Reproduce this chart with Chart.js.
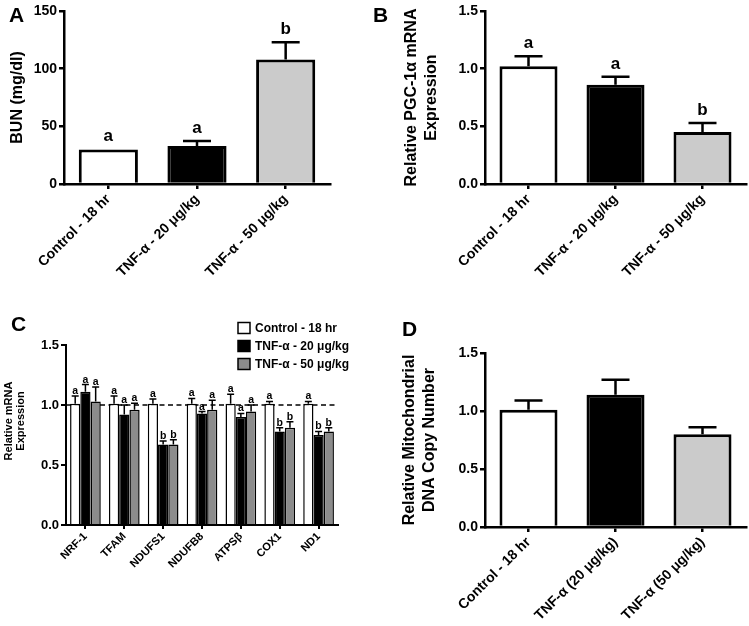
<!DOCTYPE html>
<html><head><meta charset="utf-8">
<script src="https://cdn.jsdelivr.net/npm/chart.js@4.4.1/dist/chart.umd.min.js"></script>
<style>
html,body{margin:0;padding:0;background:#fff;width:749px;height:626px;overflow:hidden;position:relative;font-family:"Liberation Sans",Arial,sans-serif;}
canvas{position:absolute;}
.lbl{position:absolute;font-weight:bold;font-size:21px;line-height:1;color:#000;}
</style></head><body>
<canvas id="cA" width="370" height="305" style="left:0;top:0"></canvas>
<canvas id="cB" width="379" height="305" style="left:370px;top:0"></canvas>
<canvas id="cC" width="370" height="321" style="left:0;top:305px"></canvas>
<canvas id="cD" width="379" height="321" style="left:370px;top:305px"></canvas>
<div class="lbl" style="left:9px;top:4px">A</div>
<div class="lbl" style="left:373px;top:4px">B</div>
<div class="lbl" style="left:11px;top:313px">C</div>
<div class="lbl" style="left:402px;top:318px">D</div>
<script>
// ---- Data ----
const groupsAB = ['Control - 18 hr', 'TNF-α - 20 μg/kg', 'TNF-α - 50 μg/kg'];
const groupsD = ['Control - 18 hr', 'TNF-α (20 μg/kg)', 'TNF-α (50 μg/kg)'];
const bunValues = [30, 33, 108];
const bunErrors = [0, 4.3, 14.8];
const bunLetters = ['a', 'a', 'b'];
const pgcValues = [1.02, 0.86, 0.45];
const pgcErrors = [0.087, 0.07, 0.078];
const pgcLetters = ['a', 'a', 'b'];
const genes = ['NRF-1', 'TFAM', 'NDUFS1', 'NDUFB8', 'ATPSβ', 'COX1', 'ND1'];
const seriesNames = ['Control - 18 hr', 'TNF-α - 20 μg/kg', 'TNF-α - 50 μg/kg'];
const ctrlValues = [1.01, 1.01, 1.01, 1.01, 1.01, 1.01, 1.01];
const ctrlErrors = [0.065, 0.065, 0.04, 0.045, 0.08, 0.02, 0.02];
const ctrlLetters = ['a', 'a', 'a', 'a', 'a', 'a', 'a'];
const tnf20Values = [1.11, 0.92, 0.67, 0.93, 0.90, 0.78, 0.75];
const tnf20Errors = [0.06, 0.08, 0.03, 0.015, 0.03, 0.03, 0.03];
const tnf20Letters = ['a', 'a', 'b', 'a', 'a', 'b', 'b'];
const tnf50Values = [1.03, 0.96, 0.67, 0.96, 0.945, 0.81, 0.78];
const tnf50Errors = [0.12, 0.055, 0.04, 0.08, 0.055, 0.05, 0.03];
const tnf50Letters = ['a', 'a', 'b', 'a', 'a', 'b', 'b'];
const mtValues = [1.01, 1.14, 0.80];
const mtErrors = [0.08, 0.13, 0.06];
const ticksA = [0, 50, 100, 150];
const tickLabelsA = ['0', '50', '100', '150'];
const ticksRel = [0, 0.5, 1.0, 1.5];
const tickLabelsRel = ['0.0', '0.5', '1.0', '1.5'];
const refLineValue = 1.0;
const titleC = ['Relative mRNA', 'Expression'];

// ---- Styling ----
const FONT = '"Liberation Sans", Arial, sans-serif';
Chart.defaults.font.family = FONT;
Chart.defaults.font.weight = 'bold';
Chart.defaults.color = '#000';

const extras = {
  cA: {errors: [bunErrors], letters: [bunLetters], cap: 28, lw: 2.5, font: 'bold 17px ' + FONT, gap: 8},
  cB: {errors: [pgcErrors], letters: [pgcLetters], cap: 28, lw: 2.5, font: 'bold 17px ' + FONT, gap: 8},
  cC: {errors: [ctrlErrors, tnf20Errors, tnf50Errors], letters: [ctrlLetters, tnf20Letters, tnf50Letters], cap: 7, lw: 1.5, font: 'bold 10.5px ' + FONT, gap: 2, refLine: refLineValue, legend: true, ownTitle: titleC},
  cD: {errors: [mtErrors], letters: null, cap: 28, lw: 2.5, font: 'bold 17px ' + FONT, gap: 8}
};

const errPlugin = {
  id: 'errs',
  beforeDatasetsDraw(chart) {
    const ex = extras[chart.canvas.id];
    if (ex.refLine == null) return;
    const ctx = chart.ctx, ys = chart.scales.y.getPixelForValue(ex.refLine), a = chart.chartArea;
    ctx.save();
    ctx.strokeStyle = '#000'; ctx.lineWidth = 1.5; ctx.setLineDash([5, 3.5]);
    ctx.beginPath(); ctx.moveTo(a.left, ys); ctx.lineTo(a.right, ys); ctx.stroke();
    ctx.restore();
  },
  afterDatasetsDraw(chart) {
    const ex = extras[chart.canvas.id];
    const ctx = chart.ctx, yScale = chart.scales.y;
    chart.data.datasets.forEach((ds, di) => {
      const meta = chart.getDatasetMeta(di);
      meta.data.forEach((bar, i) => {
        const v = ds.data[i], e = ex.errors[di][i];
        let top = bar.y;
        ctx.save();
        ctx.strokeStyle = '#000'; ctx.lineWidth = ex.lw;
        if (e > 0) {
          top = yScale.getPixelForValue(v + e);
          ctx.beginPath();
          ctx.moveTo(bar.x, bar.y); ctx.lineTo(bar.x, top);
          ctx.moveTo(bar.x - ex.cap / 2, top); ctx.lineTo(bar.x + ex.cap / 2, top);
          ctx.stroke();
        }
        const L = ex.letters && ex.letters[di] && ex.letters[di][i];
        if (L) {
          ctx.fillStyle = '#000'; ctx.font = ex.font; ctx.textAlign = 'center'; ctx.textBaseline = 'alphabetic';
          ctx.fillText(L, bar.x, top - ex.gap);
        }
        ctx.restore();
      });
    });
  },
  afterDraw(chart) {
    const ex = extras[chart.canvas.id];
    const ctx = chart.ctx;
    if (ex.ownTitle) {
      ex.ownTitle.forEach((line, k) => {
        ctx.save();
        ctx.translate(9 + 12 * k, 116);
        ctx.rotate(-Math.PI / 2);
        ctx.fillStyle = '#000'; ctx.font = 'bold 11px ' + FONT; ctx.textAlign = 'center'; ctx.textBaseline = 'middle';
        ctx.fillText(line, 0, 0);
        ctx.restore();
      });
    }
    if (!ex.legend) return;
    const rows = [23, 41, 59];
    chart.data.datasets.forEach((ds, di) => {
      ctx.save();
      ctx.fillStyle = ds.backgroundColor; ctx.strokeStyle = '#000'; ctx.lineWidth = 1.5;
      ctx.fillRect(238, rows[di] - 5.5, 12, 11);
      ctx.strokeRect(238, rows[di] - 5.5, 12, 11);
      ctx.fillStyle = '#000'; ctx.font = 'bold 12px ' + FONT; ctx.textAlign = 'left'; ctx.textBaseline = 'middle';
      ctx.fillText(ds.label, 255, rows[di] + 0.5);
      ctx.restore();
    });
  }
};

function yAxis(o) {
  return {
    min: o.min, max: o.max,
    afterBuildTicks: s => { s.ticks = o.ticks.map(v => ({value: v})); },
    afterFit: s => { s.width = o.width; },
    ticks: {font: {size: o.tickSize, weight: 'bold'}, padding: 2, color: '#000',
      callback: (v, i) => o.labels[i]},
    grid: {display: true, drawOnChartArea: false, drawTicks: true, tickLength: 5, color: '#000', lineWidth: o.lw},
    border: {display: true, color: '#000', width: o.lw},
    title: {display: !!o.title, text: o.title || '', font: {size: o.titleSize, weight: 'bold'}, color: '#000', padding: {top: o.titlePad, bottom: 0}}
  };
}
function xAxis(o) {
  return {
    afterFit: s => { s.height = o.height; },
    ticks: {font: {size: o.tickSize, weight: 'bold'}, color: '#000', minRotation: 45, maxRotation: 45, autoSkip: false, padding: o.pad},
    grid: {display: true, drawOnChartArea: false, drawTicks: true, tickLength: o.tl, color: '#000', lineWidth: o.lw, offset: false},
    border: {display: true, color: '#000', width: o.lw}
  };
}
function baseOpts(pad, yo, xo) {
  return {
    responsive: false, devicePixelRatio: 1, animation: false,
    layout: {padding: pad},
    plugins: {legend: {display: false}, tooltip: {enabled: false}},
    scales: {x: xAxis(xo), y: yAxis(yo)}
  };
}

new Chart(document.getElementById('cA'), {
  type: 'bar',
  data: {labels: groupsAB, datasets: [{data: bunValues, backgroundColor: ['#ffffff', '#000000', '#cbcbcb'], borderColor: '#000', borderWidth: 3, borderSkipped: 'start', categoryPercentage: 1, barPercentage: 0.667}]},
  options: baseOpts({top: 11, right: 40, left: 0, bottom: 0},
    {min: 0, max: 150, ticks: ticksA, labels: tickLabelsA, width: 64, tickSize: 14, lw: 2.5, title: 'BUN (mg/dl)', titleSize: 16, titlePad: 8.4},
    {height: 121, tickSize: 14, pad: 2, tl: 5, lw: 2.5}),
  plugins: [errPlugin]
});

new Chart(document.getElementById('cB'), {
  type: 'bar',
  data: {labels: groupsAB, datasets: [{data: pgcValues, backgroundColor: ['#ffffff', '#000000', '#cbcbcb'], borderColor: '#000', borderWidth: 3, borderSkipped: 'start', categoryPercentage: 1, barPercentage: 0.667}]},
  options: baseOpts({top: 11, right: 3, left: 0, bottom: 0},
    {min: 0, max: 1.5, ticks: ticksRel, labels: tickLabelsRel, width: 115, tickSize: 14, lw: 2.5, title: ['Relative PGC-1α mRNA', 'Expression'], titleSize: 16, titlePad: 32.4},
    {height: 121, tickSize: 14, pad: 2, tl: 5, lw: 2.5}),
  plugins: [errPlugin]
});

new Chart(document.getElementById('cC'), {
  type: 'bar',
  data: {labels: genes, datasets: [
    {label: seriesNames[0], data: ctrlValues, backgroundColor: '#ffffff', borderColor: '#000', borderWidth: 1.5, borderSkipped: 'start', categoryPercentage: 0.79, barPercentage: 1},
    {label: seriesNames[1], data: tnf20Values, backgroundColor: '#000000', borderColor: '#000', borderWidth: 1.5, borderSkipped: 'start', categoryPercentage: 0.79, barPercentage: 1},
    {label: seriesNames[2], data: tnf50Values, backgroundColor: '#8c8c8c', borderColor: '#000', borderWidth: 1.5, borderSkipped: 'start', categoryPercentage: 0.79, barPercentage: 1}
  ]},
  options: baseOpts({top: 40, right: 32, left: 0, bottom: 0},
    {min: 0, max: 1.5, ticks: ticksRel, labels: tickLabelsRel, width: 66, tickSize: 13, lw: 2, title: null},
    {height: 101, tickSize: 11, pad: 1, tl: 4, lw: 2}),
  plugins: [errPlugin]
});

new Chart(document.getElementById('cD'), {
  type: 'bar',
  data: {labels: groupsD, datasets: [{data: mtValues, backgroundColor: ['#ffffff', '#000000', '#cbcbcb'], borderColor: '#000', borderWidth: 3, borderSkipped: 'start', categoryPercentage: 1, barPercentage: 0.667}]},
  options: baseOpts({top: 48, right: 3, left: 0, bottom: 0},
    {min: 0, max: 1.5, ticks: ticksRel, labels: tickLabelsRel, width: 115, tickSize: 14, lw: 2.5, title: ['Relative Mitochondrial', 'DNA Copy Number'], titleSize: 16, titlePad: 30.4},
    {height: 99, tickSize: 14, pad: 2, tl: 5, lw: 2.5}),
  plugins: [errPlugin]
});
</script>
</body></html>
